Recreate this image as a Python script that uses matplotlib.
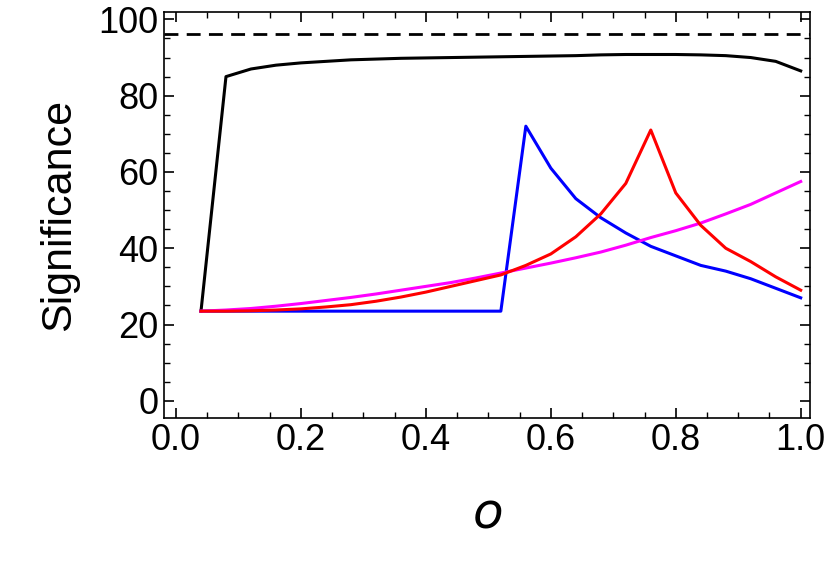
import matplotlib
matplotlib.use("Agg")
import matplotlib.pyplot as plt
from matplotlib.ticker import MultipleLocator

plt.rcParams['font.family'] = ['Liberation Sans', 'DejaVu Sans']
x = [0.04*i for i in range(1, 26)]
black = [23.5,85,87,88,88.6,89,89.4,89.6,89.8,89.9,90,90.1,90.2,90.3,90.4,90.5,90.7,90.8,90.8,90.8,90.7,90.5,90,89,86.5]
blue = [23.5]*13 + [72,61,53,48,44,40.5,38,35.5,34,32,29.5,27]
red = [23.5,23.5,23.6,23.8,24.1,24.6,25.2,26.1,27.2,28.5,30,31.5,33,35.5,38.5,43,49,57,71,54.5,46,40,36.5,32.5,29]
magenta = [23.5,23.8,24.2,24.8,25.5,26.3,27.1,28,29,30,31,32.2,33.5,34.8,36.1,37.5,39,40.8,42.8,44.6,46.6,49,51.5,54.5,57.5]
dashed_level = 96.3

fig = plt.figure(figsize=(8.3, 5.61), dpi=100)
ax = fig.add_axes([0.197, 0.255, 0.779, 0.724])
ax.axhline(dashed_level, color='black', ls=(0, (5, 3)), lw=2)
ax.plot(x, black, color='black', lw=2.2)
ax.plot(x, blue, color='#0000ff', lw=2.2)
ax.plot(x, magenta, color='#ff00ff', lw=2.2)
ax.plot(x, red, color='#ff0000', lw=2.2)
ax.set_xlim(-0.02, 1.015)
ax.set_ylim(-4.5, 102)
ax.xaxis.set_major_locator(MultipleLocator(0.2))
ax.xaxis.set_minor_locator(MultipleLocator(0.05))
ax.yaxis.set_major_locator(MultipleLocator(20))
ax.yaxis.set_minor_locator(MultipleLocator(5))
ax.tick_params(which='both', direction='in', top=True, right=True, labelsize=26)
ax.tick_params(which='major', length=7, width=1.2)
ax.tick_params(which='minor', length=4, width=1)
ax.xaxis.set_major_formatter(matplotlib.ticker.FormatStrFormatter('%.1f'))
for s in ax.spines.values():
    s.set_linewidth(1.2)
ax.set_ylabel('Significance', fontsize=31, labelpad=14)
ax.set_xlabel(r'$o$', fontsize=36, labelpad=24)
fig.savefig('out.png', dpi=100)
